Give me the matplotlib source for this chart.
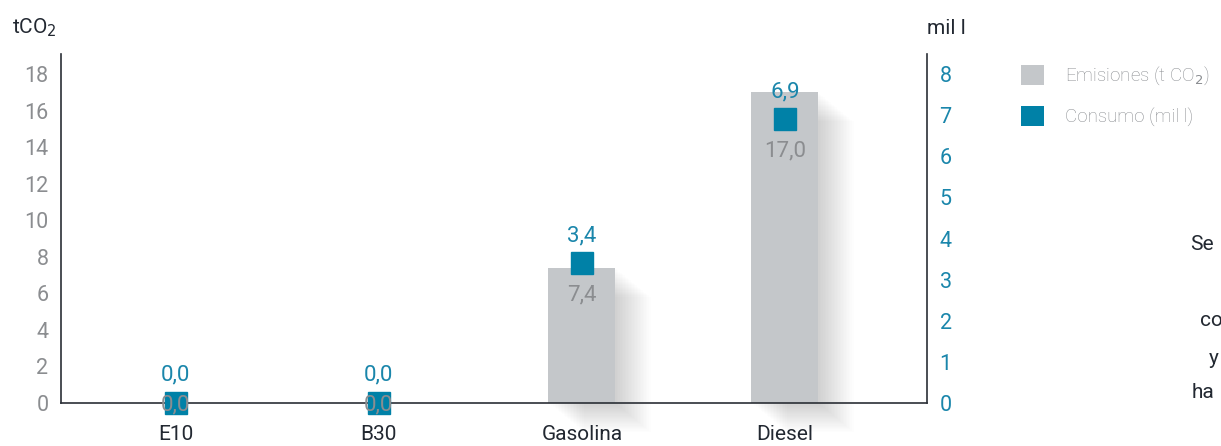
import matplotlib
matplotlib.use("Agg")
import matplotlib.pyplot as plt
import matplotlib.patheffects as pe
from matplotlib.patches import Patch

plt.rcParams['font.family'] = ['Roboto', 'DejaVu Sans']

# fuel types and their values
categories = ["E10", "B30", "Gasolina", "Diesel"]
emisiones = [0.0, 0.0, 7.4, 17.0]    # t CO2
consumo = [0.0, 0.0, 3.4, 6.9]       # mil l
left_ticks = [0, 2, 4, 6, 8, 10, 12, 14, 16, 18]
right_ticks = [0, 1, 2, 3, 4, 5, 6, 7, 8]

BAR_GREY = '#c4c7ca'
BLUE = '#0081a7'
BLUE_TXT = '#1a86ab'
GREY_TXT = '#8b8d90'
DARK = '#222831'


def fmt(v):
    return f"{v:.1f}".replace('.', ',')


fig = plt.figure(figsize=(12.21, 4.46), dpi=100)
ax = fig.add_axes([61 / 1221, 43 / 446, (927 - 61) / 1221, (403 - 54) / 446])
ax2 = ax.twinx()

x = list(range(len(categories)))

# soft shadow under each bar, many faint offset copies
shadow = [pe.SimplePatchShadow(offset=(d * 1.1, -d * 0.9), shadow_rgbFace='k', alpha=0.009)
          for d in range(1, 24)] + [pe.Normal()]
bars = ax.bar(x, emisiones, width=0.33, color=BAR_GREY, zorder=2, clip_on=False)
for b in bars:
    b.set_path_effects(shadow)

ax2.plot(x, consumo, linestyle='none', marker='s', markersize=16,
         color=BLUE, zorder=3, clip_on=False)

for xi, e, c in zip(x, emisiones, consumo):
    ax2.annotate(fmt(c), (xi, c), xytext=(0, 20), textcoords='offset points',
                 ha='center', va='center', fontsize=16, color=BLUE_TXT, zorder=5)
    # bar value goes under the marker; empty bars keep it on the baseline
    if e > 0:
        ax2.annotate(fmt(e), (xi, c), xytext=(0, -23), textcoords='offset points',
                     ha='center', va='center', fontsize=16, color=GREY_TXT, zorder=6)
    else:
        ax2.annotate(fmt(e), (xi, e), xycoords=ax.transData, xytext=(0, -1.5),
                     textcoords='offset points', ha='center', va='center',
                     fontsize=16, color=GREY_TXT, zorder=6, annotation_clip=False)

ax.set_xlim(-0.566, 3.70)
ax.set_ylim(0, 19.1)
ax2.set_ylim(0, 19.1 * 8 / 18)
ax.set_yticks(left_ticks)
ax2.set_yticks(right_ticks)
ax.set_xticks(x)
ax.set_xticklabels(categories)

ax.tick_params(axis='y', length=0, pad=9, labelsize=15.5, labelcolor=GREY_TXT)
ax2.tick_params(axis='y', length=0, pad=9, labelsize=15.5, labelcolor=BLUE_TXT)
ax.tick_params(axis='x', length=0, pad=16, labelsize=15, labelcolor=DARK)

for a in (ax, ax2):
    a.spines['top'].set_visible(False)
    for s in ('left', 'right', 'bottom'):
        a.spines[s].set_color('#2b2f36')
        a.spines[s].set_linewidth(1.2)
ax.spines['right'].set_visible(False)
ax2.spines['left'].set_visible(False)
ax2.spines['bottom'].set_visible(False)

fig.text(12 / 1221, 1 - 28 / 446, "tCO$_2$", fontsize=15, color=DARK, va='center')
fig.text(927 / 1221, 1 - 28 / 446, "mil l", fontsize=15, color=DARK, va='center')

handles = [Patch(facecolor=BAR_GREY), Patch(facecolor=BLUE)]
labels = ["Emisiones (t CO$_2$)", "Consumo (mil l)"]
fig.legend(handles, labels, loc='upper left', bbox_to_anchor=(1004 / 1221, 1 - 48 / 446),
           frameon=False, handlelength=1.25, handleheight=1.25, handletextpad=1.1,
           labelspacing=1.0, prop={'size': 13.5, 'weight': 'light'}, labelcolor='#8a8d91')

# side text running off the right edge
for tx, ty, s in [(1190, 245, "Se"), (1200, 320, "co"), (1209, 358, "y"), (1192, 393, "ha")]:
    fig.text(tx / 1221, 1 - ty / 446, s, fontsize=15, color=DARK, va='center')

fig.savefig("out.png", dpi=100)
